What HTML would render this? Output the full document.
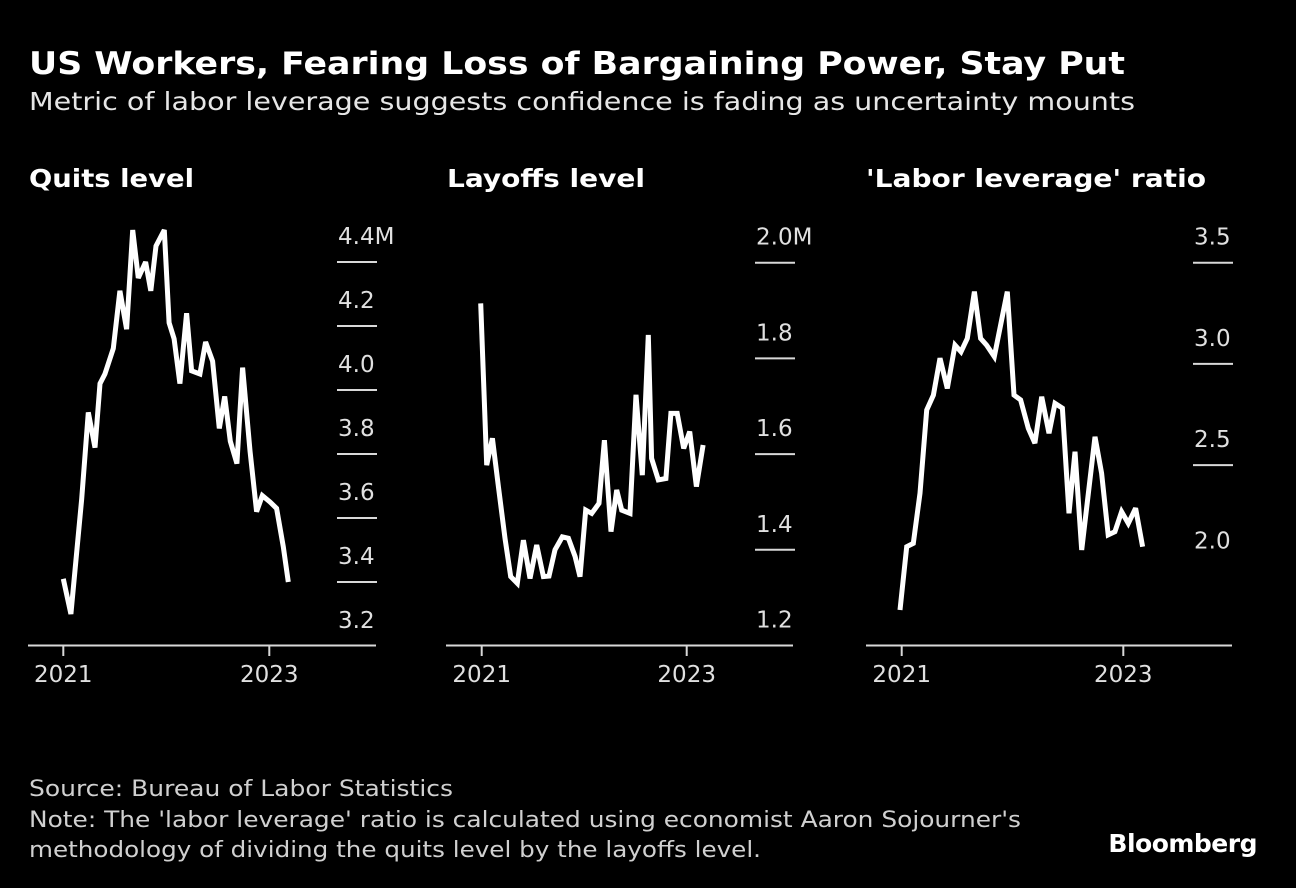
<!DOCTYPE html>
<html><head><meta charset="utf-8"><style>
html,body{margin:0;padding:0;background:#000;}
svg{display:block;}
text{font-family:"DejaVu Sans","Liberation Sans",sans-serif;}
</style></head><body>
<svg id="chart" width="1296" height="888" viewBox="0 0 1296 888" xmlns="http://www.w3.org/2000/svg">
<rect width="1296" height="888" fill="#000"/>
<text x="29" y="74" fill="#fff" font-size="31" font-weight="bold" textLength="1096" lengthAdjust="spacingAndGlyphs">US Workers, Fearing Loss of Bargaining Power, Stay Put</text>
<text x="29" y="110" fill="#e6e6e6" font-size="25" textLength="1106" lengthAdjust="spacingAndGlyphs">Metric of labor leverage suggests confidence is fading as uncertainty mounts</text>
<text x="29" y="796" fill="#d0d0d0" font-size="22" textLength="424" lengthAdjust="spacingAndGlyphs">Source: Bureau of Labor Statistics</text>
<text x="29" y="827" fill="#d0d0d0" font-size="22" textLength="992" lengthAdjust="spacingAndGlyphs">Note: The 'labor leverage' ratio is calculated using economist Aaron Sojourner's</text>
<text x="29" y="857" fill="#d0d0d0" font-size="22" textLength="732" lengthAdjust="spacingAndGlyphs">methodology of dividing the quits level by the layoffs level.</text>
<text x="1257" y="852" text-anchor="end" fill="#fff" font-size="25" font-weight="bold" font-family="Liberation Sans, sans-serif" letter-spacing="-0.5">Bloomberg</text>
<g id="panels"></g>
</svg>
<script>
// Quits level (millions), x = months since Jan 2021
const quitsMonths = [0,0.89,2.14,2.91,3.69,4.27,4.85,5.83,6.6,7.38,8.08,8.74,9.59,10.19,10.8,11.77,12.33,12.91,13.59,14.37,14.95,15.92,16.58,17.4,18.17,18.8,19.46,20.23,20.89,21.75,22.52,23.18,24.08,24.85,25.63,26.21];
const quitsValues = [3.41,3.30,3.66,3.93,3.82,4.02,4.05,4.13,4.31,4.19,4.50,4.35,4.40,4.31,4.45,4.50,4.21,4.16,4.02,4.24,4.06,4.05,4.15,4.09,3.88,3.98,3.84,3.77,4.07,3.81,3.62,3.67,3.65,3.63,3.51,3.40];
// Layoffs level (millions)
const layoffMonths = [-0.12,0.59,1.25,1.95,2.73,3.39,4.17,4.88,5.66,6.44,7.22,7.88,8.58,9.44,10.15,10.93,11.51,12.18,12.88,13.73,14.36,15.14,15.8,16.39,17.36,18.06,18.8,19.5,19.89,20.67,21.57,22.15,22.89,23.65,24.35,25.14,25.92];
const layoffValues = [1.915,1.577,1.633,1.532,1.424,1.344,1.33,1.42,1.34,1.41,1.344,1.345,1.40,1.427,1.424,1.386,1.344,1.483,1.476,1.497,1.629,1.438,1.525,1.483,1.476,1.724,1.556,1.849,1.591,1.546,1.549,1.685,1.685,1.612,1.647,1.532,1.619];
// Labor leverage ratio
const ratioMonths = [-0.18,0.54,1.26,1.98,2.71,3.43,4.15,4.94,5.77,6.42,7.11,7.87,8.55,9.2,10.03,11.44,12.16,12.88,13.71,14.43,15.16,15.95,16.6,17.4,18.12,18.77,19.49,20.93,21.65,22.37,23.09,23.82,24.54,25.33,26.09];
const ratioValues = [1.784,2.097,2.113,2.361,2.772,2.846,3.028,2.879,3.093,3.06,3.126,3.357,3.126,3.093,3.036,3.357,2.846,2.822,2.682,2.608,2.838,2.657,2.805,2.781,2.262,2.566,2.081,2.64,2.46,2.155,2.171,2.27,2.212,2.287,2.097];
const quitsTicks = [3.2,3.4,3.6,3.8,4.0,4.2,4.4];
const quitsTickLabels = ["3.2","3.4","3.6","3.8","4.0","4.2","4.4M"];
const layoffTicks = [1.2,1.4,1.6,1.8,2.0];
const layoffTickLabels = ["1.2","1.4","1.6","1.8","2.0M"];
const ratioTicks = [2.0,2.5,3.0,3.5];
const ratioTickLabels = ["2.0","2.5","3.0","3.5"];
const yearMonths = [0,24];
const yearLabels = ["2021","2023"];

const NS = "http://www.w3.org/2000/svg";
const root = document.getElementById('panels');
function mk(tag, attrs, parent){const e=document.createElementNS(NS,tag);for(const k in attrs)e.setAttribute(k,attrs[k]);parent.appendChild(e);return e;}

function panel(cfg){
  const g = mk('g',{},root);
  
  
  const xs = m => cfg.x0 + (m/24)*(cfg.x1-cfg.x0);
  const ys = v => cfg.yTop + (cfg.vTop - v)*cfg.pxPerUnit;
  const t = mk('text',{x:cfg.titleX,y:187,fill:'#fff','font-size':25,'font-weight':'bold',textLength:cfg.titleLen,lengthAdjust:'spacingAndGlyphs'},g);
  t.textContent = cfg.title;
  
  
  cfg.ticks.forEach((v,i)=>{
    const y = ys(v);
    if(!(cfg.noLine && cfg.noLine.includes(v)) && y < 640){
      const l = mk('line',{x1:cfg.tickX,x2:cfg.tickX+40,y1:y,y2:y,stroke:'#d8d8d8','stroke-width':2},g);
      
      
    }
    const tx = mk('text',{x:cfg.tickX+1,y:y-18,fill:'#e0e0e0','font-size':23},g);
    tx.textContent = cfg.labels[i];
    
    
  });
  const base = mk('line',{x1:cfg.baseX0,x2:cfg.baseX1,y1:645.5,y2:645.5,stroke:'#d8d8d8','stroke-width':2},g);
  
  
  yearMonths.forEach((m,i)=>{
    const x = xs(m);
    const tk = mk('line',{x1:x,x2:x,y1:645,y2:656,stroke:'#d8d8d8','stroke-width':2},g);
    
    
    const tx = mk('text',{x:x,y:682,fill:'#e0e0e0','font-size':23,'text-anchor':'middle'},g);
    tx.textContent = yearLabels[i];
    
    
  });
  const pts = cfg.months.map((m,i)=>xs(m).toFixed(1)+','+ys(cfg.values[i]).toFixed(1)).join(' ');
  const pl = mk('polyline',{points:pts,fill:'none',stroke:'#fff','stroke-width':5,'stroke-linejoin':'miter','stroke-miterlimit':3},g);
  
  
}

panel({name:'quits-panel',title:'Quits level',titleX:29,titleLen:165,x0:63.3,x1:269.3,yTop:646,vTop:3.2,pxPerUnit:320,
  tickX:337,baseX0:28,baseX1:376,ticks:quitsTicks,labels:quitsTickLabels,months:quitsMonths,values:quitsValues});
panel({name:'layoffs-panel',title:'Layoffs level',titleX:447,titleLen:198,x0:481.7,x1:686.7,yTop:262.7,vTop:2.0,pxPerUnit:478.5,
  tickX:755,baseX0:446,baseX1:793,ticks:layoffTicks,labels:layoffTickLabels,months:layoffMonths,values:layoffValues});
panel({name:'ratio-panel',title:"'Labor leverage' ratio",titleX:866,titleLen:340,x0:901.7,x1:1123.3,yTop:262.7,vTop:3.5,pxPerUnit:202.4,
  tickX:1193,baseX0:866,baseX1:1232,ticks:ratioTicks,labels:ratioTickLabels,noLine:[2.0],months:ratioMonths,values:ratioValues});
</script>
</body></html>
